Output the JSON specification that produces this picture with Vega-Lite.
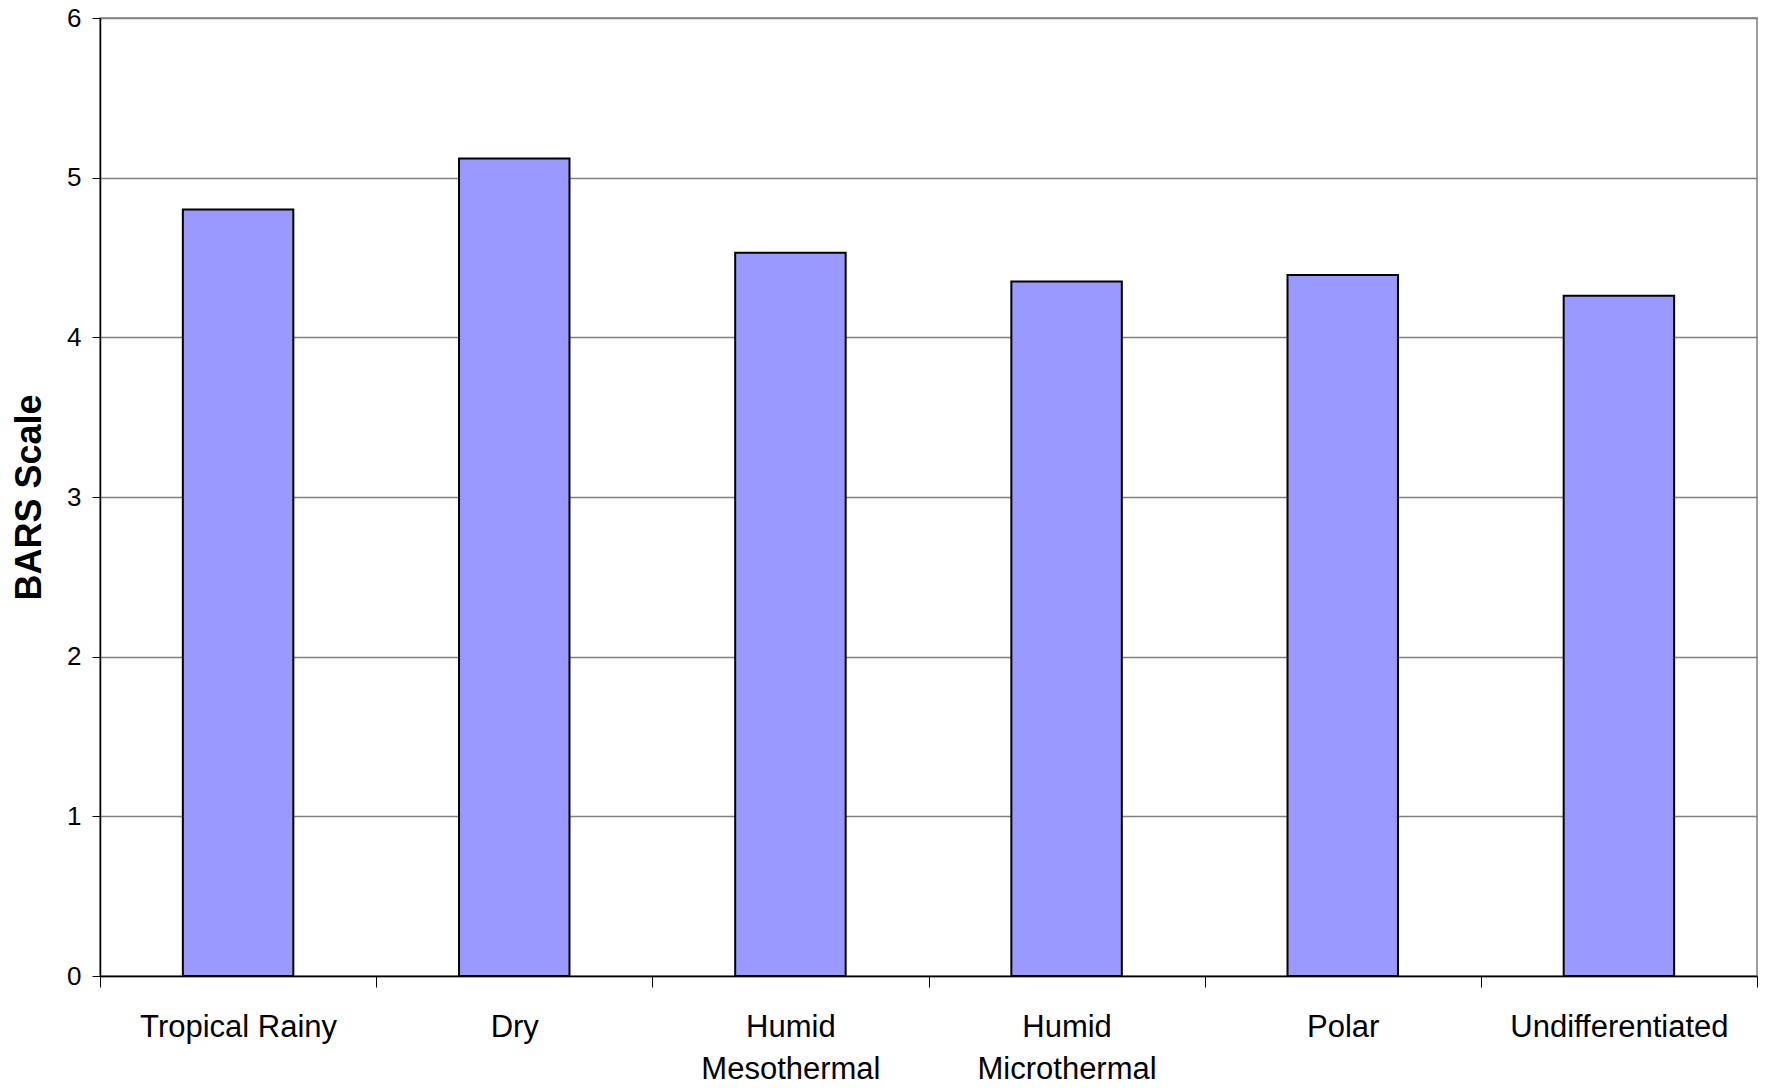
{
  "$schema": "https://vega.github.io/schema/vega-lite/v6.json",
  "width": 1657,
  "height": 958,
  "autosize": {"type": "none"},
  "padding": {"left": 100, "top": 18, "right": 10, "bottom": 112},
  "background": "white",
  "config": {
    "font": "Liberation Sans",
    "view": {"stroke": "#808080", "strokeWidth": 1.5}
  },
  "data": {
    "values": [
      {"climate": "Tropical Rainy", "bars": 4.80},
      {"climate": "Dry", "bars": 5.12},
      {"climate": "Humid|Mesothermal", "bars": 4.53},
      {"climate": "Humid|Microthermal", "bars": 4.35},
      {"climate": "Polar", "bars": 4.39},
      {"climate": "Undifferentiated", "bars": 4.26}
    ]
  },
  "mark": {
    "type": "bar",
    "width": {"band": 0.4},
    "fill": "#9999FF",
    "stroke": "#000000",
    "strokeWidth": 2
  },
  "encoding": {
    "x": {
      "field": "climate",
      "type": "nominal",
      "sort": null,
      "scale": {"paddingInner": 0, "paddingOuter": 0},
      "axis": {
        "title": null,
        "labelAngle": 0,
        "labelExpr": "split(datum.label, '|')",
        "labelFontSize": 31,
        "labelLimit": 0,
        "labelColor": "#000000",
        "labelLineHeight": 42,
        "labelPadding": 25,
        "labelBaseline": "top",
        "tickBand": "extent",
        "tickSize": 11,
        "tickColor": "#000000",
        "tickWidth": 1,
        "domainColor": "#000000",
        "domainWidth": 1.5,
        "grid": false
      }
    },
    "y": {
      "field": "bars",
      "type": "quantitative",
      "scale": {"domain": [0, 6], "nice": false},
      "axis": {
        "title": "BARS Scale",
        "titleFontSize": 36,
        "titleFontWeight": "bold",
        "titleColor": "#000000",
        "titlePadding": 18,
        "values": [0, 1, 2, 3, 4, 5, 6],
        "labelFontSize": 26,
        "labelColor": "#000000",
        "labelPadding": 11,
        "tickSize": 8,
        "tickColor": "#000000",
        "domainColor": "#000000",
        "domainWidth": 1.5,
        "grid": true,
        "gridColor": "#808080",
        "gridWidth": 1.5
      }
    }
  }
}
